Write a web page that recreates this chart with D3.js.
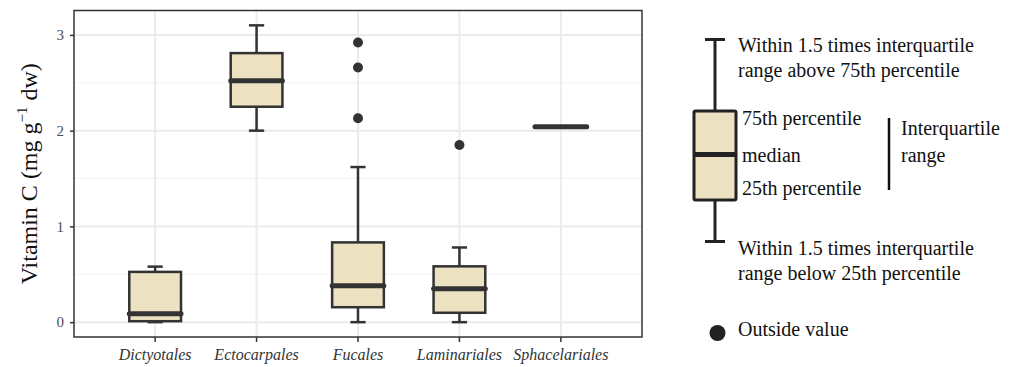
<!DOCTYPE html>
<html>
<head>
<meta charset="utf-8">
<script src="https://cdn.jsdelivr.net/npm/d3@7"></script>
<style>
  body { margin: 0; background: #fff; }
  svg text { font-family: "Palatino Linotype", "Book Antiqua", Palatino, "Liberation Serif", "DejaVu Serif", serif; }
</style>
</head>
<body>
<svg id="chart" width="1022" height="367"></svg>
<script>
// Vitamin C box plots by order

const orders = ["Dictyotales", "Ectocarpales", "Fucales", "Laminariales", "Sphacelariales"];
const lowerWhisker = [0.0, 2.0, 0.0, 0.0, 2.04];
const q1 = [0.01, 2.25, 0.156, 0.098, 2.04];
const median = [0.087, 2.52, 0.379, 0.348, 2.04];
const q3 = [0.525, 2.81, 0.833, 0.583, 2.04];
const upperWhisker = [0.58, 3.10, 1.62, 0.78, 2.04];
const outliers = [[], [], [2.92, 2.66, 2.13], [1.85], []];
const yTicks = [0, 1, 2, 3];
const yMinor = [0.5, 1.5, 2.5];

const margin = { top: 10.5, right: 380, bottom: 30, left: 74 };
const width = 642 - margin.left;
const height = 337 - margin.top;

const svg = d3.select("#chart");
const g = svg.append("g")
    .attr("transform", `translate(${margin.left},${margin.top})`);

// scales, with ggplot style padding
const x = d3.scaleBand()
    .domain(orders)
    .range([0, width])
    .paddingOuter(0.3);

const yMin = -0.155, yMax = 3.255;
const y = d3.scaleLinear()
    .domain([yMin, yMax])
    .range([height, 0]);

// grid
g.selectAll(".minor")
    .data(yMinor)
    .enter().append("line")
    .attr("x1", 0).attr("x2", width)
    .attr("y1", d => y(d)).attr("y2", d => y(d))
    .attr("stroke", "#f2f2f2").attr("stroke-width", 1);

g.selectAll(".major")
    .data(yTicks)
    .enter().append("line")
    .attr("x1", 0).attr("x2", width)
    .attr("y1", d => y(d)).attr("y2", d => y(d))
    .attr("stroke", "#ebebeb").attr("stroke-width", 2);

g.selectAll(".vgrid")
    .data(orders)
    .enter().append("line")
    .attr("x1", d => x(d) + x.bandwidth() / 2).attr("x2", d => x(d) + x.bandwidth() / 2)
    .attr("y1", 0).attr("y2", height)
    .attr("stroke", "#ebebeb").attr("stroke-width", 2);

// boxes
const boxW = x.bandwidth() * 0.51;
const capW = x.bandwidth() * 0.15;
const data = orders.map((o, i) => ({
    name: o, lo: lowerWhisker[i], q1: q1[i], med: median[i], q3: q3[i], hi: upperWhisker[i], out: outliers[i]
}));

const boxes = g.selectAll(".box")
    .data(data)
    .enter().append("g")
    .attr("transform", d => `translate(${x(d.name) + x.bandwidth() / 2},0)`);

const ink = "#333333";

boxes.filter(d => d.hi > d.lo).append("line")
    .attr("x1", 0).attr("x2", 0)
    .attr("y1", d => y(d.hi)).attr("y2", d => y(d.lo))
    .attr("stroke", ink).attr("stroke-width", 2.5);

boxes.filter(d => d.hi > d.lo).selectAll(".cap")
    .data(d => [d.hi, d.lo])
    .enter().append("line")
    .attr("x1", -capW / 2).attr("x2", capW / 2)
    .attr("y1", v => y(v)).attr("y2", v => y(v))
    .attr("stroke", ink).attr("stroke-width", 2.5);

boxes.append("rect")
    .attr("x", -boxW / 2)
    .attr("width", boxW)
    .attr("y", d => y(d.q3))
    .attr("height", d => y(d.q1) - y(d.q3))
    .attr("fill", "#ece1c1")
    .attr("stroke", ink)
    .attr("stroke-width", 2.5);

boxes.append("line")
    .attr("x1", -boxW / 2).attr("x2", boxW / 2)
    .attr("y1", d => y(d.med)).attr("y2", d => y(d.med))
    .attr("stroke", ink).attr("stroke-width", 5)
    .attr("stroke-linecap", "round");

boxes.selectAll(".out")
    .data(d => d.out)
    .enter().append("circle")
    .attr("cx", 0)
    .attr("cy", v => y(v))
    .attr("r", 5)
    .attr("fill", ink);

// panel border
g.append("rect")
    .attr("width", width).attr("height", height)
    .attr("fill", "none")
    .attr("stroke", "#333333").attr("stroke-width", 1.5);

// axes
const yAxis = g.append("g")
    .call(d3.axisLeft(y).tickValues(yTicks).tickSize(4).tickPadding(6).tickFormat(d3.format("d")));
yAxis.select(".domain").remove();
yAxis.selectAll("line").attr("stroke", "#333").attr("stroke-width", 1.5);
yAxis.selectAll("text").attr("fill", "#4d4d4d").style("font-size", "15px");

const xAxis = g.append("g")
    .attr("transform", `translate(0,${height})`)
    .call(d3.axisBottom(x).tickSize(5).tickPadding(7));
xAxis.select(".domain").remove();
xAxis.selectAll("line").attr("stroke", "#333").attr("stroke-width", 1.5);
xAxis.selectAll("text").attr("fill", "#333").style("font-size", "16px").style("font-style", "italic");

// y axis title
const yTitle = svg.append("text")
    .attr("transform", `translate(37,${margin.top + y(1.55)}) rotate(-90)`)
    .attr("text-anchor", "middle")
    .attr("fill", "#111")
    .style("font-size", "24px");
yTitle.append("tspan").text("Vitamin C (mg g");
yTitle.append("tspan").attr("dy", -10).style("font-size", "15px").text("\u22121");
yTitle.append("tspan").attr("dy", 10).text(" dw)");

// key on the right
const key = svg.append("g");
const kx = 715, kBoxW = 42;
const keyStats = { hi: 39.5, q3: 111, med: 154.5, q1: 200, lo: 241.5 };

key.append("line").attr("x1", kx).attr("x2", kx).attr("y1", keyStats.hi).attr("y2", keyStats.lo)
    .attr("stroke", "#222").attr("stroke-width", 3);
[keyStats.hi, keyStats.lo].forEach(v => {
    key.append("line").attr("x1", kx - 10).attr("x2", kx + 10).attr("y1", v).attr("y2", v)
        .attr("stroke", "#222").attr("stroke-width", 3);
});
key.append("rect").attr("x", kx - kBoxW / 2).attr("width", kBoxW)
    .attr("y", keyStats.q3).attr("height", keyStats.q1 - keyStats.q3)
    .attr("fill", "#ece1c1").attr("stroke", "#222").attr("stroke-width", 3).attr("rx", 1.5);
key.append("line").attr("x1", kx - kBoxW / 2).attr("x2", kx + kBoxW / 2)
    .attr("y1", keyStats.med).attr("y2", keyStats.med)
    .attr("stroke", "#222").attr("stroke-width", 5);

key.append("line").attr("x1", 889).attr("x2", 889).attr("y1", 118).attr("y2", 190)
    .attr("stroke", "#111").attr("stroke-width", 2.5);

key.append("circle").attr("cx", 717.5).attr("cy", 333).attr("r", 8).attr("fill", "#222");

const keyText = [
    { x: 738, y: 45, t: "Within 1.5 times interquartile" },
    { x: 738, y: 70, t: "range above 75th percentile" },
    { x: 742, y: 118, t: "75th percentile" },
    { x: 742, y: 155, t: "median" },
    { x: 742, y: 188, t: "25th percentile" },
    { x: 901, y: 128, t: "Interquartile" },
    { x: 901, y: 155, t: "range" },
    { x: 738, y: 248, t: "Within 1.5 times interquartile" },
    { x: 738, y: 273, t: "range below 25th percentile" },
    { x: 738, y: 329, t: "Outside value" }
];
key.selectAll(".kt")
    .data(keyText)
    .enter().append("text")
    .attr("x", d => d.x).attr("y", d => d.y)
    .attr("dy", "0.35em")
    .attr("fill", "#111")
    .style("font-size", "20px")
    .text(d => d.t);
</script>
</body>
</html>
